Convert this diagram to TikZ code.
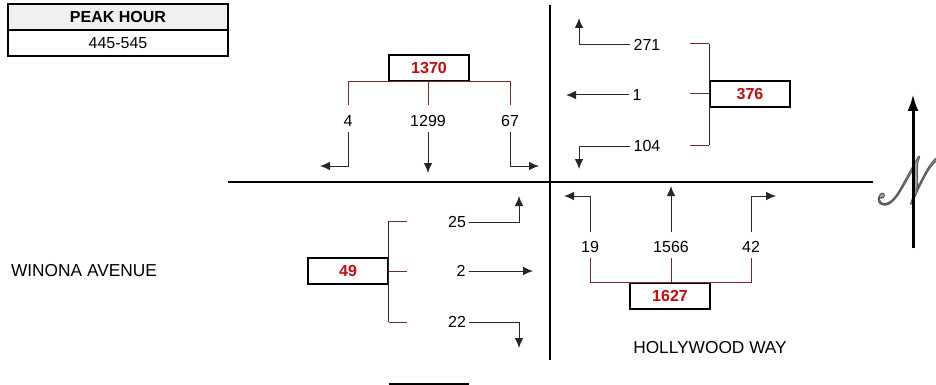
\documentclass[tikz,border=0pt]{standalone}
\usepackage{fontspec}
\setmainfont{Liberation Sans}
\usepackage{mathrsfs}
\usetikzlibrary{arrows.meta}

\definecolor{feedbrown}{RGB}{120,40,40}
\definecolor{totred}{RGB}{200,10,10}

\tikzset{
	road/.style={black, line width=1.8pt},
	tot/.style={draw, line width=1.6pt, minimum width=80pt, minimum height=26pt, inner sep=0pt, text=totred, font=\fontsize{16}{19}\selectfont\bfseries},
	lbl/.style={inner xsep=3pt, inner ysep=5pt},
	street/.style={font=\fontsize{17.3}{20}\selectfont},
	feed/.style={feedbrown, line width=1pt},
	mv/.style={black!85, line width=1pt},
	tip/.style={-{Latex[length=10pt,width=8.5pt]}}
}

\begin{document}
\begin{tikzpicture}[x=1pt, y=-1pt, font=\fontsize{16}{19}\selectfont]
		
		\useasboundingbox (0,0) rectangle (936,385);
		
		% peak hour table
		\fill[gray!12] (8,4) rectangle (228,30);
		\draw[line width=1.6pt] (8,4) rectangle (228,56);
		\draw[line width=1.2pt] (8,30) -- (228,30);
		\node (peak) at (118,17) {\bfseries PEAK HOUR};
		\node (peakval) at (118,43) {445-545};
		
		% streets
		\draw[road] (228,182) -- (873,182);
		\draw[road] (550,5) -- (550,360);
		\node[street] (winona) at (84,271) {WINONA AVENUE};
		\node[street] (hollywood) at (710,348) {HOLLYWOOD WAY};
		
		% north approach
		\node[tot] (b1370) at (429,68) {1370};
		\node[lbl] (n4) at (348,121) {4};
		\node[lbl] (n1299) at (428,121) {1299};
		\node[lbl] (n67) at (510,121) {67};
		\draw[feed] ([yshift=5pt]n4.north) |- (b1370.south);
		\draw[feed] ([yshift=5pt]n67.north) |- (b1370.south);
		\draw[feed] ([yshift=5pt]n1299.north) -- (n1299.north |- b1370.south);
		\coordinate (a4) at (320,166);
		\coordinate (a1299) at (428,173);
		\coordinate (a67) at (539,166);
		\draw[mv,tip] (n4.south) |- (a4);
		\draw[mv,tip] (n1299.south) -- (a1299);
		\draw[mv,tip] (n67.south) |- (a67);
		
		% east approach
		\node[tot] (b376) at (750,94) {376};
		\node[lbl] (n271) at (647,45) {271};
		\node[lbl] (n1) at (637,95) {1};
		\node[lbl] (n104) at (647,146) {104};
		\coordinate (k271) at (690,44);
		\coordinate (k1) at (690,94);
		\coordinate (k104) at (690,145);
		\draw[mv] (b376.west |- k271) -- (b376.west |- k104);
		\draw[feed] (k271) -- (b376.west |- k271);
		\draw[feed] (k1) -- (b376.west |- k1);
		\draw[feed] (k104) -- (b376.west |- k104);
		\coordinate (a271) at (579,18);
		\coordinate (a1) at (566,95);
		\coordinate (a104) at (579,169);
		\draw[mv,tip] (n271.west) -| (a271);
		\draw[mv,tip] (n1.west) -- (a1);
		\draw[mv,tip] (n104.west) -| (a104);
		
		% west approach
		\node[tot] (b49) at (348,271) {49};
		\node[lbl] (n25) at (457,222) {25};
		\node[lbl] (n2) at (461,271) {2};
		\node[lbl] (n22) at (457,322) {22};
		\coordinate (k25) at (407,221);
		\coordinate (k2) at (407,271);
		\coordinate (k22) at (407,322);
		\draw[mv] (b49.east |- k25) -- (b49.east |- k22);
		\draw[feed] (b49.east |- k25) -- (k25);
		\draw[feed] (b49.east |- k2) -- (k2);
		\draw[feed] (b49.east |- k22) -- (k22);
		\coordinate (a25) at (519,196);
		\coordinate (a2) at (533,271);
		\coordinate (a22) at (519,348);
		\draw[mv,tip] (n25.east) -| (a25);
		\draw[mv,tip] (n2.east) -- (a2);
		\draw[mv,tip] (n22.east) -| (a22);
		
		% south approach
		\node[tot] (b1627) at (670,296) {1627};
		\node[lbl] (n19) at (590,247) {19};
		\node[lbl] (n1566) at (671,247) {1566};
		\node[lbl] (n42) at (751,247) {42};
		\draw[feed] (n19.south) |- (b1627.north);
		\draw[feed] (n42.south) |- (b1627.north);
		\draw[feed] (n1566.south) -- (n1566.south |- b1627.north);
		\coordinate (a19) at (564,196);
		\coordinate (a1566) at (671,186);
		\coordinate (a42) at (776,196);
		\draw[mv,tip] ([yshift=4pt]n19.north) |- (a19);
		\draw[mv,tip] ([yshift=4pt]n1566.north) -- (a1566);
		\draw[mv,tip] ([yshift=4pt]n42.north) |- (a42);
		
		% box cut off at the bottom
		\draw[line width=1.6pt] (389,384) -- (469,384);
		
		% north sign
		\node[inner sep=0pt, text=gray!75] (northN) at (910,180) {\scalebox{3.1}[3.9]{\special{pdf:literal direct 2 Tr 0.3 w 0.35 G}$\mathscr{N}$\special{pdf:literal direct 0 Tr}}};
		\coordinate (nfoot) at (913,248);
		\coordinate (nhead) at (913,94);
		\draw[line width=3pt, -{Latex[length=17pt,width=11pt]}] (nfoot) -- (nhead);
		
\end{tikzpicture}
\end{document}
